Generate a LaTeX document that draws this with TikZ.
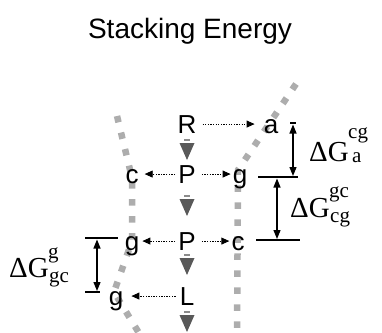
\documentclass[tikz,border=0pt]{standalone}
\usepackage{fontspec}
\setmainfont{Liberation Serif}
\newfontfamily\sansf{Liberation Sans}
\usetikzlibrary{arrows.meta}
\begin{document}
\begin{tikzpicture}[x=1pt,y=-1pt,
  letter/.style={font=\sansf\fontsize{26}{26}\selectfont, inner sep=0pt, anchor=base},
  link/.style={draw, line width=0.9pt, dash pattern=on 1.3pt off 1.3pt, -{Triangle[length=8pt,width=7pt]}},
  strand/.style={draw=black!32, line width=6.5pt, dash pattern=on 6.5pt off 10.5pt},
  level/.style={draw, line width=1.2pt},
  gapline/.style={draw, line width=1.2pt, {Triangle[length=9pt,width=7pt]}-{Triangle[length=9pt,width=7pt]}},
  bigtext/.style={font=\fontsize{29}{29}\selectfont, inner sep=0pt, anchor=base west},
  smalltext/.style={font=\fontsize{21}{21}\selectfont, inner sep=0pt, anchor=base west},
  downtip/.pic={
    \fill[black!45] (-3,-4) rectangle (3,-2);
    \fill[black!65] (-7.5,0) -- (7.5,0) -- (0,17) -- cycle;
  }
]
\useasboundingbox (0,0) rectangle (382,332);
% title
\node[font=\sansf\fontsize{28}{28}\selectfont, anchor=base, inner sep=0pt] (title) at (190,38.5) {Stacking Energy};
% strands
\coordinate (l0) at (117,116);
\coordinate (l1) at (132,178);
\coordinate (l2) at (132,241);
\coordinate (l3) at (114,292);
\coordinate (l4) at (142,338);
\draw[strand] (l0) -- (l1) -- (l2) -- (l3) -- (l4);
\coordinate (r0) at (296,84);
\coordinate (r1) at (238,170);
\coordinate (r2) at (237,338);
\draw[strand] (r0) -- (r1) -- (r2);
% flow tips
\pic at (187,143) {downtip};
\pic at (187,199) {downtip};
\pic at (187,258) {downtip};
\pic at (187,315) {downtip};
% letters
\node[letter] (R) at (187,133) {R};
\node[letter] (a) at (271,133) {a};
\node[letter] (P1) at (187,183) {P};
\node[letter] (c1) at (132,183) {c};
\node[letter] (g1) at (240,183) {g};
\node[letter] (P2) at (187,250) {P};
\node[letter] (g2) at (132,250) {g};
\node[letter] (c2) at (238,250) {c};
\node[letter] (L) at (187,305) {L};
\node[letter] (g3) at (116,305) {g};
% dotted links
\draw[link] ([xshift=6pt]R.east) -- ([xshift=-9pt]a.west |- R.east);
\draw[link] ([xshift=-3pt]P1.west) -- ([xshift=6pt]c1.east |- P1.west);
\draw[link] ([xshift=6pt]P1.east) -- ([xshift=-2pt]g1.west |- P1.east);
\draw[link] ([xshift=-3pt]P2.west) -- ([xshift=3pt]g2.east |- P2.west);
\draw[link] ([xshift=6pt]P2.east) -- ([xshift=-2pt]c2.west |- P2.east);
\draw[link] ([xshift=-4pt]L.west) -- ([xshift=8pt]g3.east |- L.west);
% energy levels
\coordinate (ba0) at (290,123); \coordinate (ba1) at (296,123);
\coordinate (bg0) at (258,177); \coordinate (bg1) at (298,177);
\coordinate (bc0) at (256,240); \coordinate (bc1) at (300,240);
\coordinate (bl0) at (85,238);  \coordinate (bl1) at (118,238);
\coordinate (bm0) at (85,292);  \coordinate (bm1) at (100,292);
\draw[level] (ba0) -- (ba1);
\draw[level] (bg0) -- (bg1);
\draw[level] (bc0) -- (bc1);
\draw[level] (bl0) -- (bl1);
\draw[level] (bm0) -- (bm1);
\coordinate (u1) at (293,124.5); \coordinate (d1) at (293,176);
\coordinate (u2) at (277,178.5); \coordinate (d2) at (277,239);
\coordinate (u3) at (97,239.5);  \coordinate (d3) at (97,291);
\draw[gapline] (u1) -- (d1);
\draw[gapline] (u2) -- (d2);
\draw[gapline] (u3) -- (d3);
% labels
\node[bigtext] (dG1) at (309,161) {ΔG};
\node[smalltext] (s1) at (348,138) {cg};
\node[smalltext] (t1) at (352,162) {a};
\node[bigtext] (dG2) at (290,217) {ΔG};
\node[smalltext] (s2) at (329,197) {gc};
\node[smalltext] (t2) at (330,222) {cg};
\node[bigtext] (dG3) at (9,277) {ΔG};
\node[smalltext] (s3) at (48,258) {g};
\node[smalltext] (t3) at (49,282) {gc};
\end{tikzpicture}
\end{document}
